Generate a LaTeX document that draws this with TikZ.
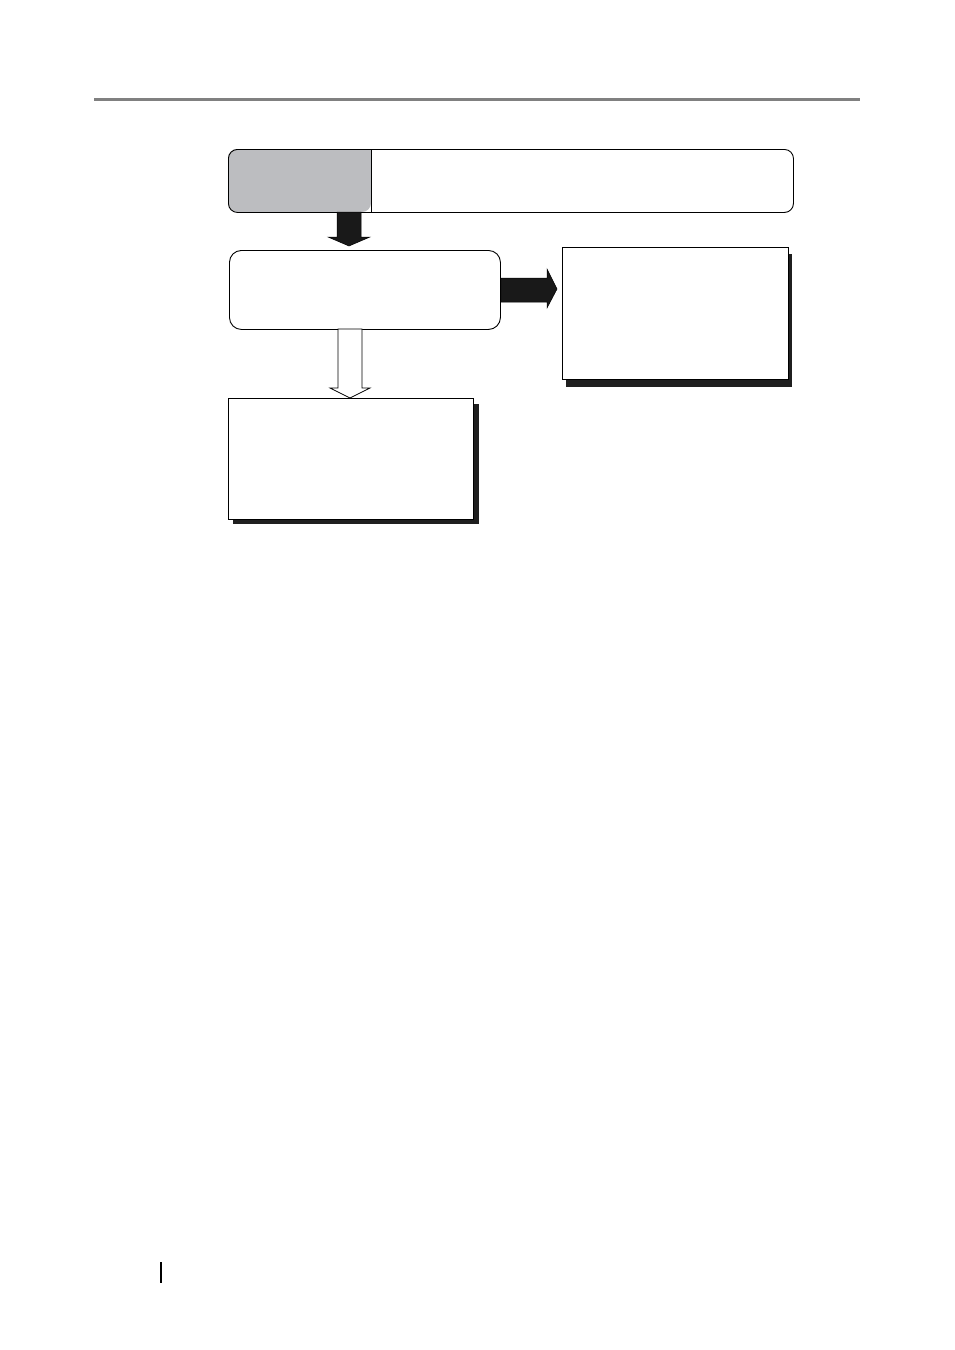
\documentclass[tikz,border=0pt]{standalone}
\begin{document}
\begin{tikzpicture}[x=1pt,y=-1pt,
  boxline/.style={draw=black,line width=0.9pt},
  shadowbox/.style={fill=black!88},
  blackarrow/.style={fill=black!90,draw=black,line width=0.5pt},
  whitearrow/.style={fill=white,draw=black,line width=0.7pt}]
\useasboundingbox (0,0) rectangle (954,1350);
% top rule
\fill[black!50] (94,98) rectangle (860,101);
% top box
\fill[fill={rgb,255:red,188;green,189;blue,192}] [rounded corners=9pt] (371,149) -- (228,149) -- (228,212) -- (371,212) [sharp corners] -- cycle;
\node[boxline,rounded corners=9pt,minimum width=565pt,minimum height=63pt,inner sep=0pt,anchor=north west] (top) at (228,149) {};
\draw[line width=0.8pt] (371,149) -- (371,212);
% middle box
\node[boxline,rounded corners=12pt,minimum width=271pt,minimum height=79pt,inner sep=0pt,anchor=north west] (mid) at (229,250) {};
% right box with shadow
\fill[shadowbox] (566,254) rectangle (792,387);
\node[boxline,fill=white,minimum width=226pt,minimum height=132pt,inner sep=0pt,anchor=north west,line width=0.8pt] (right) at (562,247) {};
% bottom box with shadow
\fill[shadowbox] (233,404) rectangle (479,524);
\node[boxline,fill=white,minimum width=245pt,minimum height=121pt,inner sep=0pt,anchor=north west,line width=0.8pt] (bot) at (228,398) {};
% black arrow down (top -> mid)
\draw[blackarrow] (337,212) -- (361,212) -- (361,237) -- (370,237) -- (349,246) -- (328,237) -- (337,237) -- cycle;
% black arrow right (mid -> right)
\draw[blackarrow] (mid.east |- 0,278) -- (547,278) -- (547,269) -- (557,289) -- (547,308) -- (547,302) -- (mid.east |- 0,302) -- cycle;
% white arrow down (mid -> bot)
\draw[whitearrow] (338,329) -- (362,329) -- (362,388) -- (370,388) -- (350,398) -- (330,388) -- (338,388) -- cycle;
% page mark
\draw[line width=2pt] (161,1262) -- (161,1283);
\end{tikzpicture}
\end{document}
